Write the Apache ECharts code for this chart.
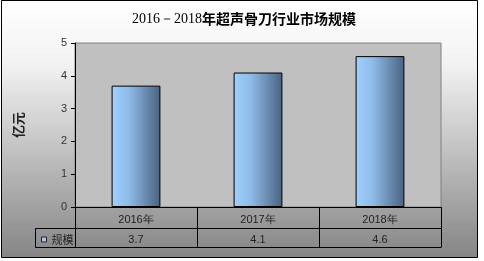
<!DOCTYPE html>
<html><head><meta charset="utf-8">
<style>html,body{margin:0;padding:0;background:#fff}#c{width:484px;height:261px}</style>
<script src="https://cdn.jsdelivr.net/npm/echarts@6/dist/echarts.min.js"></script>
</head><body><div id="c"></div>
<script>
var categories = ['2016年', '2017年', '2018年'];
var values = [3.7, 4.1, 4.6];
var seriesName = '规模';
var titleYears = '2016－2018';
var titleText = '年超声骨刀行业市场规模';
var yName = '亿元';

var chart = echarts.init(document.getElementById('c'), null, {renderer: 'canvas'});
var barGrad = new echarts.graphic.LinearGradient(0, 0, 1, 0, [
  {offset: 0, color: '#9fd0ff'}, {offset: 0.35, color: '#8fbbe8'},
  {offset: 0.7, color: '#6a8bb0'}, {offset: 1, color: '#4a6280'}
]);
var option = {
  animation: false,
  backgroundColor: '#ffffff',
  graphic: [
    {type: 'rect', z: -10, shape: {x: 1.5, y: 0.5, width: 476, height: 257},
     style: {fill: new echarts.graphic.LinearGradient(0, 0, 0, 1, [
       {offset: 0, color: '#ffffff'}, {offset: 0.25, color: '#f2f2f2'},
       {offset: 1, color: '#858585'}]), stroke: '#000', lineWidth: 1}},
    {type: 'polyline', z: 10, shape: {points: [[75, 228.5], [35.5, 228.5], [35.5, 247.5], [75, 247.5]]},
     style: {stroke: '#000', lineWidth: 1, fill: null}}
  ],
  title: {
    text: '{a|' + titleYears + '}{b|' + titleText + '}',
    left: 239, top: 7, textAlign: 'center',
    textStyle: {fontWeight: 'normal', rich: {
      a: {fontFamily: 'Liberation Serif', fontSize: 14, fontWeight: 'normal', color: '#000'},
      b: {fontFamily: 'Noto Sans CJK SC', fontSize: 14, fontWeight: 'bold', color: '#000'}
    }}
  },
  legend: {
    left: 36, top: 229, itemWidth: 5, itemHeight: 5, itemGap: 4,
    icon: 'rect',
    textStyle: {fontSize: 11, color: '#222', fontFamily: 'Noto Sans CJK SC'},
    data: [{name: seriesName, itemStyle: {color: '#a9c6e8', borderColor: '#222', borderWidth: 1}}]
  },
  grid: {left: 75, right: 43, top: 43, bottom: 54, show: true, backgroundColor: '#c0c0c0', borderColor: '#808080', borderWidth: 1},
  xAxis: [
    {type: 'category', data: categories, position: 'bottom',
     axisLine: {lineStyle: {color: '#000', width: 1}},
     axisTick: {show: true, length: 40, lineStyle: {color: '#000'}},
     axisLabel: {margin: 7, fontSize: 11, color: '#222', fontFamily: 'Liberation Sans'}},
    {type: 'category', data: categories, position: 'bottom', offset: 21,
     axisLine: {lineStyle: {color: '#000', width: 1}}, axisTick: {show: false},
     axisLabel: {margin: 6, fontSize: 11, color: '#222', fontFamily: 'Liberation Sans',
       formatter: function (v, i) { return String(values[i]); }}},
    {type: 'category', data: categories, position: 'bottom', offset: 40,
     axisLine: {lineStyle: {color: '#000', width: 1}}, axisTick: {show: false}, axisLabel: {show: false}}
  ],
  yAxis: {
    type: 'value', min: 0, max: 5, interval: 1,
    name: yName, nameLocation: 'middle', nameRotate: 90, nameGap: 50,
    nameTextStyle: {fontSize: 13, fontWeight: 'bold', color: '#222', fontFamily: 'Noto Sans CJK SC'},
    axisLine: {show: true, lineStyle: {color: '#000'}},
    axisTick: {show: true, length: 4, lineStyle: {color: '#000'}},
    axisLabel: {margin: 8, fontSize: 11, color: '#333', fontFamily: 'Liberation Sans'},
    splitLine: {show: false}
  },
  series: [{
    name: seriesName, type: 'bar', data: values, barWidth: '40%',
    itemStyle: {color: barGrad, borderColor: '#000', borderWidth: 1}
  }]
};
chart.setOption(option);
</script></body></html>
